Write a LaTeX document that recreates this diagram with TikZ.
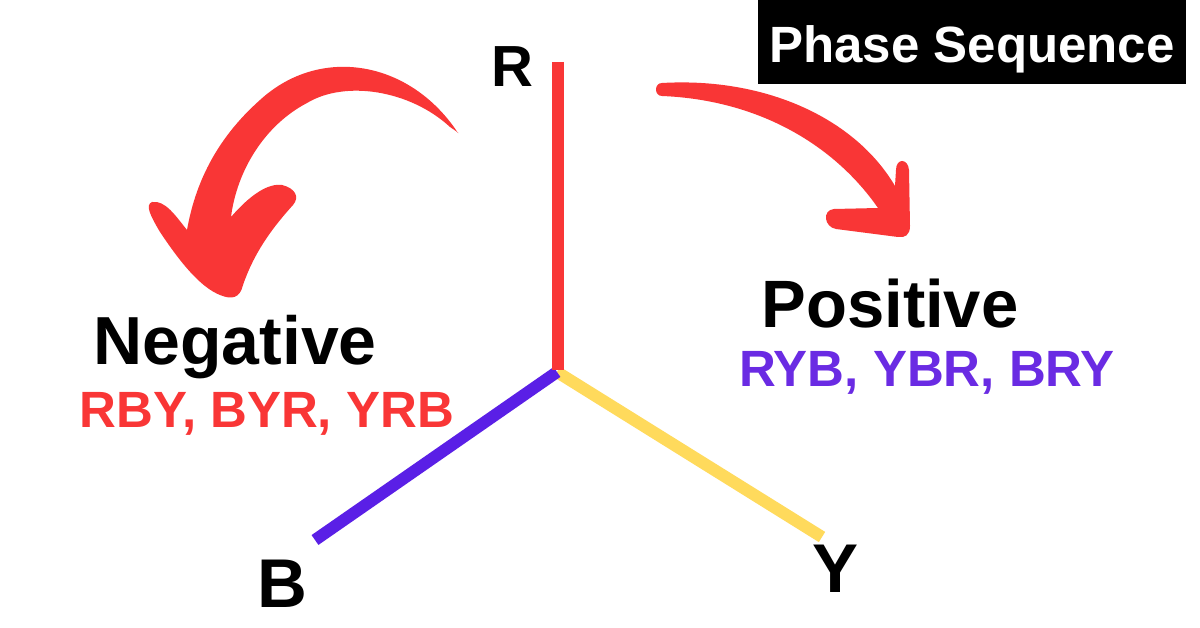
\documentclass[tikz,border=0pt]{standalone}
\usepackage{fontspec}
\setmainfont{Liberation Sans}
\definecolor{arrred}{HTML}{F93636}
\definecolor{phR}{HTML}{F93636}
\definecolor{phB}{HTML}{5A1FE6}
\definecolor{phY}{HTML}{FFDA5C}
\definecolor{txtP}{HTML}{6A2BE3}
\tikzset{
  lbl/.style={inner sep=0pt, anchor=base, font=\bfseries},
  phase/.style={line width=12pt},
}
\begin{document}
\begin{tikzpicture}[x=1pt,y=-1pt]
\useasboundingbox (0,0) rectangle (1200,628);
\fill[white] (0,0) rectangle (1200,628);

% title box
\fill[black] (758,0) rectangle (1186,84);
\node[lbl, text=white, font=\bfseries\fontsize{51}{51}\selectfont] (title) at (972,63) {Phase Sequence};

% phasor lines
\coordinate (O) at (557,372);
\coordinate (Rend) at (558,62);
\coordinate (Bend) at (315,540);
\coordinate (Yend) at (822,537);
\draw[phase, phY] (O) -- (Yend);
\draw[phase, phB] (O) -- (Bend);
\draw[phase, phR] (Rend) -- (558,370);

% phase labels
\node[lbl, font=\bfseries\fontsize{58}{58}\selectfont] (R) at (512,87) {R};
\node[lbl, font=\bfseries\fontsize{69}{69}\selectfont] (B) at (282,607) {B};
\node[lbl, font=\bfseries\fontsize{69}{69}\selectfont] (Y) at (836,592) {Y};

% sequence labels
\node[lbl, font=\bfseries\fontsize{68}{68}\selectfont] (neg) at (235,365) {Negative};
\node[lbl, text=phR, font=\bfseries\fontsize{51}{51}\selectfont] (negseq) at (267,428) {RBY, BYR, YRB};
\node[lbl, font=\bfseries\fontsize{67}{67}\selectfont] (pos) at (890,328) {Positive};
\node[lbl, text=txtP, font=\bfseries\fontsize{51}{51}\selectfont] (posseq) at (927,387) {RYB, YBR, BRY};

% left (negative) curved arrow
\fill[arrred]
  (458,133) .. controls (410,60) and (320,45) .. (260,100)
  .. controls (215,140) and (195,185) .. (187,230)
  .. controls (175,215) and (165,200) .. (152,202)
  .. controls (145,205) and (150,215) .. (160,232)
  .. controls (180,262) and (200,287) .. (220,295)
  .. controls (232,300) and (240,298) .. (243,285)
  .. controls (255,250) and (275,225) .. (293,205)
  .. controls (300,197) and (295,188) .. (282,185)
  .. controls (268,183) and (250,195) .. (231,217)
  .. controls (237,170) and (265,125) .. (307,103)
  .. controls (345,80) and (410,90) .. (450,127)
  .. controls (456,131) and (460,134) .. (458,133) -- cycle;

% right (positive) curved arrow
\fill[arrred]
  (662,83) .. controls (765,77) and (855,118) .. (895,186)
  -- (896,170) .. controls (896,158) and (908,158) .. (909,170)
  -- (910,226) .. controls (910,235) and (905,238) .. (898,237)
  -- (836,229) .. controls (824,227) and (822,210) .. (834,209)
  -- (878,208)
  .. controls (835,146) and (760,100) .. (662,96)
  .. controls (654,96) and (654,83) .. (662,83) -- cycle;
\end{tikzpicture}
\end{document}
